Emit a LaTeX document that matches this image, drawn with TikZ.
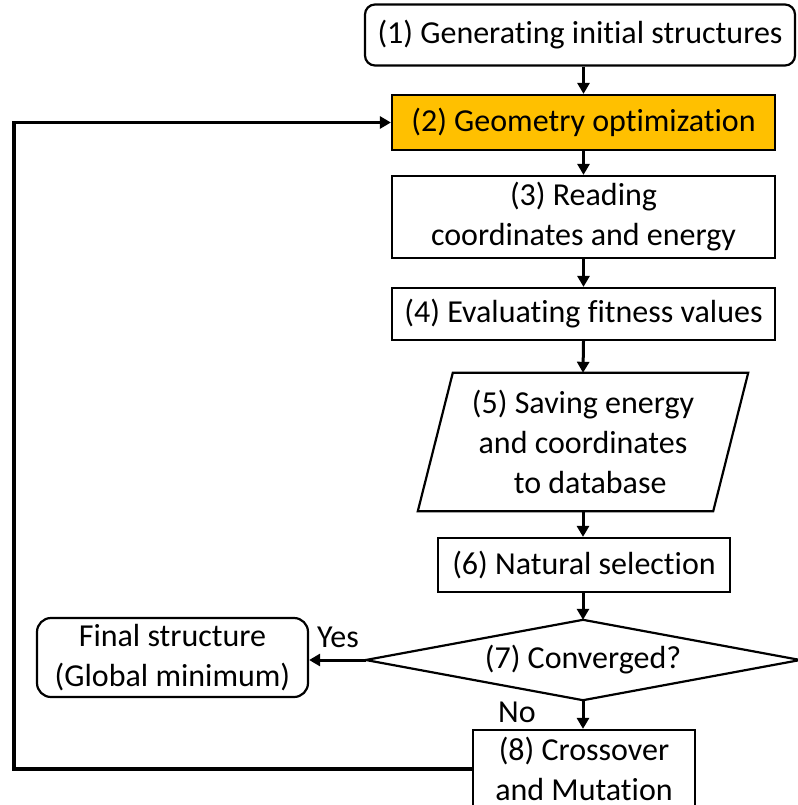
\documentclass[tikz,border=0pt]{standalone}
\usepackage{fontspec}
\setmainfont{Carlito}[Ligatures=CommonOff]
\usetikzlibrary{arrows.meta,calc}
\definecolor{orangebox}{HTML}{FFC000}
\begin{document}
\begin{tikzpicture}[x=1pt,y=-1pt,
  font=\fontsize{32}{40}\selectfont,
  box/.style={draw=black,line width=2.2pt,rectangle,align=center,inner sep=0pt},
  shapeonly/.style={draw=none,rectangle,align=center,inner sep=0pt},
  conn/.style={line width=3pt,-{Triangle[length=11pt,width=12pt]}},
  lbl/.style={inner sep=0pt}]
\useasboundingbox (0,0) rectangle (797,805);
\node[box,rounded corners=10pt,minimum width=430pt,minimum height=61pt] (n1) at (580,35) {(1) Generating initial structures};
\node[box,fill=orangebox,minimum width=383pt,minimum height=55pt] (n2) at (583.5,122.5) {(2) Geometry optimization};
\node[box,minimum width=383pt,minimum height=82pt] (n3) at (583.5,217) {(3) Reading\\coordinates and energy};
\node[box,minimum width=383pt,minimum height=52pt] (n4) at (583.5,314) {(4) Evaluating fitness values};
\node[shapeonly,minimum width=330pt,minimum height=138pt] (n5) at (583,442) {(5) Saving energy\\and coordinates\\\ \ to database};
\draw[line width=2.2pt] ($(n5.north west)+(35pt,0)$) -- (n5.north east) -- ($(n5.south east)-(35pt,0)$) -- (n5.south west) -- cycle;
\node[box,minimum width=292pt,minimum height=54pt] (n6) at (584,565) {(6) Natural selection};
\node[shapeonly,minimum width=434pt,minimum height=80pt] (n7) at (583,660) {(7) Converged?};
\draw[line width=2.2pt] (n7.west) -- (n7.north) -- (n7.east) -- (n7.south) -- cycle;
\node[box,rounded corners=14pt,minimum width=271pt,minimum height=79pt] (nf) at (172.5,657.5) {Final structure\\(Global minimum)};
\node[box,minimum width=222pt,minimum height=78pt] (n8) at (584,769) {(8) Crossover\\and Mutation};
\node[lbl] (yes) at (338,637) {Yes};
\node[lbl] (no) at (517,712) {No};
\coordinate (cl) at (14,400);
\draw[conn] (n1.south -| n2.north) -- (n2.north);
\draw[conn] (n2.south) -- (n3.north);
\draw[conn] (n3.south) -- (n4.north);
\draw[conn] (n4.south) -- (n5.north);
\draw[conn] (n5.south) -- (n6.north -| n5.south);
\draw[conn] (n6.south -| n7.north) -- (n7.north);
\draw[conn] (n7.west) -- (nf.east |- n7.west);
\draw[conn] (n7.south) -- (n8.north -| n7.south);
\draw[line width=3.5pt,-{Triangle[length=11pt,width=12pt]}] (n8.west) -| (cl) |- (n2.west);
\end{tikzpicture}
\end{document}
